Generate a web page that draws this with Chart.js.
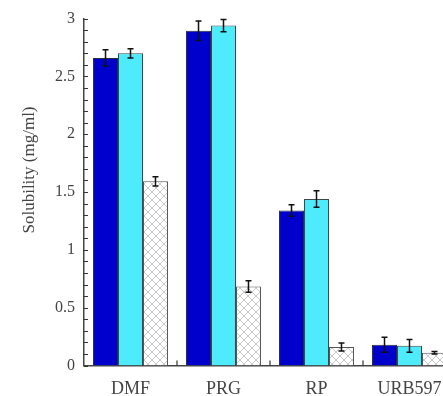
<!DOCTYPE html>
<html>
<head>
<meta charset="utf-8">
<script src="https://cdn.jsdelivr.net/npm/chart.js@4/dist/chart.umd.min.js"></script>
<style>
  html, body { margin: 0; padding: 0; background: #fff; overflow: hidden; }
  #wrap { width: 470px; height: 396px; }
</style>
</head>
<body>
<div id="wrap"><canvas id="solChart" width="470" height="396"></canvas></div>
<script>
const categories = ['DMF', 'PRG', 'RP', 'URB597'];
const seriesA = [2.66, 2.895, 1.34, 0.18];
const errorsA = [0.07, 0.085, 0.05, 0.065];
const seriesB = [2.70, 2.94, 1.44, 0.17];
const errorsB = [0.04, 0.053, 0.072, 0.055];
const seriesC = [1.593, 0.683, 0.16, 0.11];
const errorsC = [0.04, 0.05, 0.035, 0.01];
const errorSets = [errorsA, errorsB, errorsC];

function hatchPattern() {
    const c = document.createElement('canvas');
    c.width = 8; c.height = 8;
    const g = c.getContext('2d');
    g.fillStyle = '#fff';
    g.fillRect(0, 0, 8, 8);
    g.strokeStyle = '#c8c8c8';
    g.lineWidth = 1;
    g.beginPath();
    g.moveTo(0, 0); g.lineTo(8, 8);
    g.moveTo(8, 0); g.lineTo(0, 8);
    g.stroke();
    return document.getElementById('solChart').getContext('2d').createPattern(c, 'repeat');
}

// error bars, inward ticks and the y title
const extras = {
    id: 'extras',
    afterDatasetsDraw(chart) {
        const ctx = chart.ctx;
        const y = chart.scales.y;
        const area = chart.chartArea;
        ctx.save();
        ctx.strokeStyle = '#111';
        ctx.lineWidth = 1.5;
        chart.data.datasets.forEach((ds, i) => {
            chart.getDatasetMeta(i).data.forEach((bar, j) => {
                const v = ds.data[j], e = errorSets[i][j];
                const top = y.getPixelForValue(v + e);
                const bot = y.getPixelForValue(v - e);
                ctx.beginPath();
                ctx.moveTo(bar.x, top); ctx.lineTo(bar.x, bot);
                ctx.moveTo(bar.x - 3, top); ctx.lineTo(bar.x + 3, top);
                ctx.moveTo(bar.x - 3, bot); ctx.lineTo(bar.x + 3, bot);
                ctx.stroke();
            });
        });

        ctx.strokeStyle = '#333';
        ctx.lineWidth = 1.2;
        ctx.beginPath();
        for (let k = 0; k <= 30; k++) {
            const py = Math.round(y.getPixelForValue(k / 10)) + 0.5;
            ctx.moveTo(area.left, py);
            ctx.lineTo(area.left + 4, py);
        }
        const xs = chart.scales.x;
        for (let k = 1; k < categories.length; k++) {
            const px = (xs.getPixelForValue(k - 1) + xs.getPixelForValue(k)) / 2;
            ctx.moveTo(px, area.bottom);
            ctx.lineTo(px, area.bottom - 5);
        }
        ctx.stroke();

        ctx.fillStyle = '#444';
        ctx.font = '17px "Liberation Serif"';
        ctx.textAlign = 'center';
        ctx.textBaseline = 'middle';
        ctx.translate(30, 170);
        ctx.rotate(-Math.PI / 2);
        ctx.fillText('Solubility (mg/ml)', 0, 0);
        ctx.restore();
    }
};

new Chart(document.getElementById('solChart'), {
    type: 'bar',
    data: {
        labels: categories,
        datasets: [
            { data: seriesA, backgroundColor: '#0000cc', borderColor: '#2a2a3a', borderWidth: 1 },
            { data: seriesB, backgroundColor: '#4debfb', borderColor: '#3a4a4a', borderWidth: 1 },
            { data: seriesC, backgroundColor: hatchPattern(), borderColor: '#555', borderWidth: 1 }
        ]
    },
    options: {
        responsive: false,
        animation: false,
        datasets: { bar: { barPercentage: 1, categoryPercentage: 0.806 } },
        layout: { padding: { top: 18, right: 14, left: 0, bottom: 0 } },
        plugins: {
            legend: { display: false },
            tooltip: { enabled: false }
        },
        scales: {
            x: {
                afterFit: function (s) { s.height = 30.5; },
                grid: { display: false, drawTicks: false },
                border: { display: true, color: '#444', width: 1.5 },
                ticks: {
                    color: '#444',
                    padding: 13,
                    font: { family: 'Liberation Serif', size: 18 }
                }
            },
            y: {
                min: 0,
                max: 3,
                afterFit: function (s) { s.width = 84; },
                grid: { display: false, drawTicks: false },
                border: { display: true, color: '#444', width: 1.5 },
                ticks: {
                    stepSize: 0.1,
                    autoSkip: false,
                    color: '#444',
                    padding: 9,
                    font: { family: 'Liberation Serif', size: 16 },
                    callback: function (value) {
                        const h = value * 2;
                        if (Math.abs(h - Math.round(h)) < 1e-6) {
                            return String(Math.round(h) / 2);
                        }
                        return '';
                    }
                }
            }
        }
    },
    plugins: [extras]
});
</script>
</body>
</html>
